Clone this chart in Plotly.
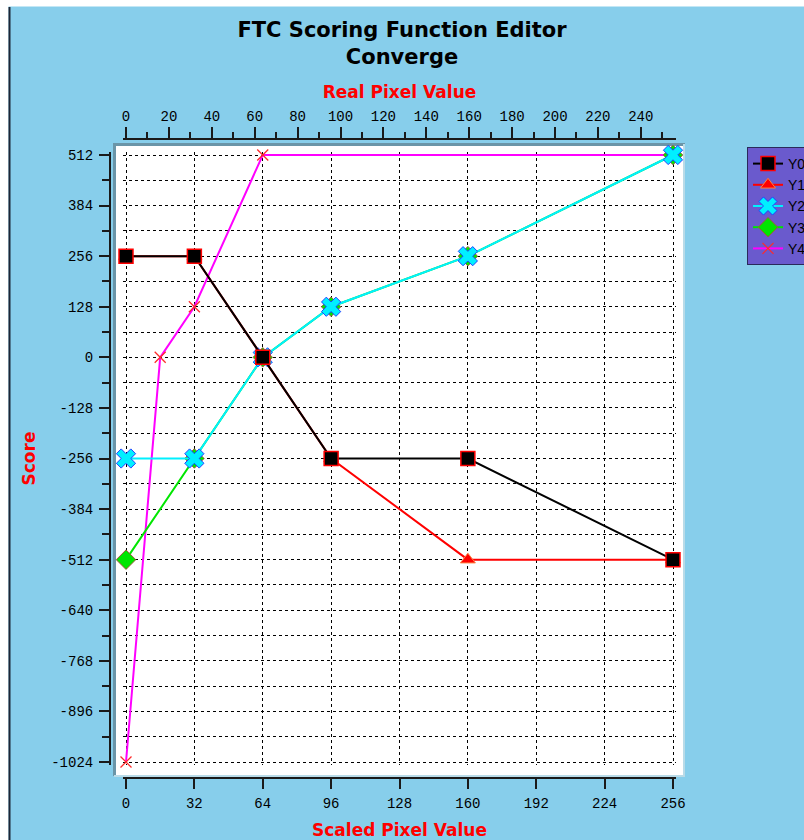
import plotly.graph_objects as go

# ---------------- data ----------------
x_scaled = [0, 32, 64, 96, 160, 256]
y0_vals = [256, 256, 0, -256, -256, -512]
y1_vals = [256, 256, 0, -256, -512, -512]
y2_vals = [-256, -256, 0, 128, 256, 512]
y3_vals = [-512, -256, 0, 128, 256, 512]
x4_vals = [0, 16, 32, 64, 256]
y4_vals = [-1024, 0, 128, 512, 512]

series_names = ["Y0", "Y1", "Y2", "Y3", "Y4"]

bottom_ticks = [0, 32, 64, 96, 128, 160, 192, 224, 256]
top_ticks = [0, 20, 40, 60, 80, 100, 120, 140, 160, 180, 200, 220, 240]
top_minor = [10, 30, 50, 70, 90, 110, 130, 150, 170, 190, 210, 230, 250]
y_ticks = [-1024, -896, -768, -640, -512, -384, -256, -128, 0, 128, 256, 384, 512]
y_tick_labels = ["-1024", "-896", "-768", "-640", "-512", "-384", "-256", "-128",
                 "0", "128", "256", "384", "512"]
y_minor = [-960, -832, -704, -576, -448, -320, -192, -64, 64, 192, 320, 448]

# ---------------- geometry helpers ----------------
W, H = 804, 840
ML, MR, MT, MB = 110, 128, 139, 62
PW = W - ML - MR
PH = H - MT - MB


def px(x):
    return (x - ML) / PW


def py(y):
    return (H - MB - y) / PH


# pixel scale of the data (x: 0->126px, 256->673px ; y: 512->155px, -1024->762px)
XS = (673 - 126) / 256.0
X2S = (673 - 126) / 255.0
YS = (762 - 155) / 1536.0
PAD = 3  # pixels of breathing room so edge lines are not clipped

SKY = "#87CEEB"
AX = "#1a1a1a"
tick_font = dict(family="Liberation Mono", size=14, color="black")
title_font = dict(family="DejaVu Sans", size=17, color="#ff0000", weight="bold")

fig = go.Figure()

# draw order: Y4 bottom ... Y0 top
fig.add_trace(go.Scatter(
    x=x4_vals, y=y4_vals, name=series_names[4], mode="lines+markers", cliponaxis=False,
    line=dict(color="#ff00ff", width=2),
    marker=dict(symbol="x-thin", size=11, color="#ff2a2a",
                line=dict(color="#ff2a2a", width=1.3))))
fig.add_trace(go.Scatter(
    x=x_scaled, y=y3_vals, name=series_names[3], mode="lines+markers", cliponaxis=False,
    line=dict(color="#00e600", width=2),
    marker=dict(symbol="diamond", size=15, color="#00e600",
                line=dict(color="#a05a3a", width=1))))
fig.add_trace(go.Scatter(
    x=x_scaled, y=y2_vals, name=series_names[2], mode="lines+markers", cliponaxis=False,
    line=dict(color="#00f0ff", width=2),
    marker=dict(symbol="x", size=17, color="#00f0ff",
                line=dict(color="#2040ff", width=1))))
fig.add_trace(go.Scatter(
    x=x_scaled, y=y1_vals, name=series_names[1], mode="lines+markers", cliponaxis=False,
    line=dict(color="#ff0000", width=2),
    marker=dict(symbol="triangle-up", size=13, color="#ff0000",
                line=dict(color="#ff8040", width=1))))
fig.add_trace(go.Scatter(
    x=x_scaled, y=y0_vals, name=series_names[0], mode="lines+markers", cliponaxis=False,
    line=dict(color="#000000", width=2),
    marker=dict(symbol="square", size=14, color="#000000",
                line=dict(color="#ff0000", width=1.5))))

# helper so the top axis gets its own subplot
fig.add_trace(go.Scatter(x=[top_ticks[0], top_ticks[-1]], y=[None, None], xaxis="x2",
                         mode="lines", showlegend=False, hoverinfo="skip"))

grid = dict(showgrid=True, gridcolor="black", gridwidth=1, griddash="dot")

fig.update_layout(
    width=W, height=H,
    margin=dict(l=ML, r=MR, t=MT, b=MB, autoexpand=False),
    paper_bgcolor=SKY,
    plot_bgcolor="rgba(0,0,0,0)",
    title=dict(text="FTC Scoring Function Editor<br>Converge", x=0.5, xref="container",
               xanchor="center", y=1 - 37 / H, yref="container", yanchor="top",
               font=dict(family="DejaVu Sans", size=21, color="black", weight="bold")),
    xaxis=dict(domain=[px(126 - PAD), 1],
               range=[-PAD / XS, bottom_ticks[-1] + PAD / XS],
               anchor="free", position=0, side="bottom",
               tickmode="array", tickvals=bottom_ticks, ticks="outside", ticklen=10,
               tickwidth=1.5, tickcolor=AX, showline=True, linecolor=AX, linewidth=2,
               zeroline=False, tickfont=tick_font, ticklabelstandoff=2,
               title=dict(text="Scaled Pixel Value", font=title_font, standoff=12), **grid),
    xaxis2=dict(overlaying="x", range=[-PAD / X2S, 255 + PAD / X2S], anchor="free",
                position=1, side="top",
                tickmode="array", tickvals=top_ticks, ticks="outside", ticklen=11,
                tickwidth=1.5, tickcolor=AX, showline=True, linecolor=AX, linewidth=2,
                zeroline=False, showgrid=False, tickfont=tick_font,
                minor=dict(tickvals=top_minor, ticks="outside", ticklen=6, tickwidth=1.5,
                           tickcolor=AX, showgrid=False),
                title=dict(text="Real Pixel Value", font=title_font, standoff=5)),
    yaxis=dict(domain=[py(762 + PAD), py(155 - PAD)],
               range=[y_ticks[0] - PAD / YS, y_ticks[-1] + PAD / YS],
               anchor="free", position=0,
               tickmode="array", tickvals=y_ticks, ticktext=y_tick_labels,
               ticks="outside", ticklen=10, ticklabelstandoff=3,
               tickwidth=1.5, tickcolor=AX, showline=True, linecolor=AX, linewidth=2,
               zeroline=False, tickfont=tick_font,
               minor=dict(tickvals=y_minor, ticks="outside", ticklen=7, tickwidth=1.5,
                          tickcolor=AX, showgrid=True, gridcolor="black", gridwidth=1,
                          griddash="dot"),
               title=dict(text="Score", font=title_font, standoff=10), **grid),
    legend=dict(x=px(747), y=py(147), xanchor="left", yanchor="top",
                bgcolor="#6a5acd", bordercolor="#2a2a5a", borderwidth=1,
                font=dict(family="Liberation Sans", size=14, color="black"),
                traceorder="reversed", itemwidth=30, tracegroupgap=0),
    showlegend=True,
    shapes=[
        # outer white strips and left frame line
        dict(type="rect", xref="paper", yref="paper", x0=px(-5), x1=px(8.5), y0=py(850),
             y1=py(-10), fillcolor="white", line=dict(width=0), layer="below"),
        dict(type="rect", xref="paper", yref="paper", x0=px(-5), x1=px(810), y0=py(6.5),
             y1=py(-10), fillcolor="white", line=dict(width=0), layer="below"),
        dict(type="line", xref="paper", yref="paper", x0=px(9.5), x1=px(9.5), y0=py(850),
             y1=py(7), line=dict(color="#1c2636", width=2), layer="below"),
        # plot panel
        dict(type="rect", xref="paper", yref="paper", x0=px(114), x1=px(684), y0=py(776),
             y1=py(144), fillcolor="white", line=dict(width=0), layer="below"),
        dict(type="line", xref="paper", yref="paper", x0=px(114.5), x1=px(114.5), y0=py(776),
             y1=py(143), line=dict(color="#6a95a8", width=3), layer="below"),
        dict(type="line", xref="paper", yref="paper", x0=px(113), x1=px(685), y0=py(144.5),
             y1=py(144.5), line=dict(color="#6a95a8", width=3), layer="below"),
        dict(type="line", xref="paper", yref="paper", x0=px(684), x1=px(684), y0=py(776),
             y1=py(144), line=dict(color="#b9dbe8", width=2), layer="below"),
        dict(type="line", xref="paper", yref="paper", x0=px(114), x1=px(685), y0=py(776),
             y1=py(776), line=dict(color="#b9dbe8", width=2), layer="below"),
    ],
)

fig.write_html("out.html", config={"displayModeBar": False},
               post_script="document.body.style.margin='0px';")
